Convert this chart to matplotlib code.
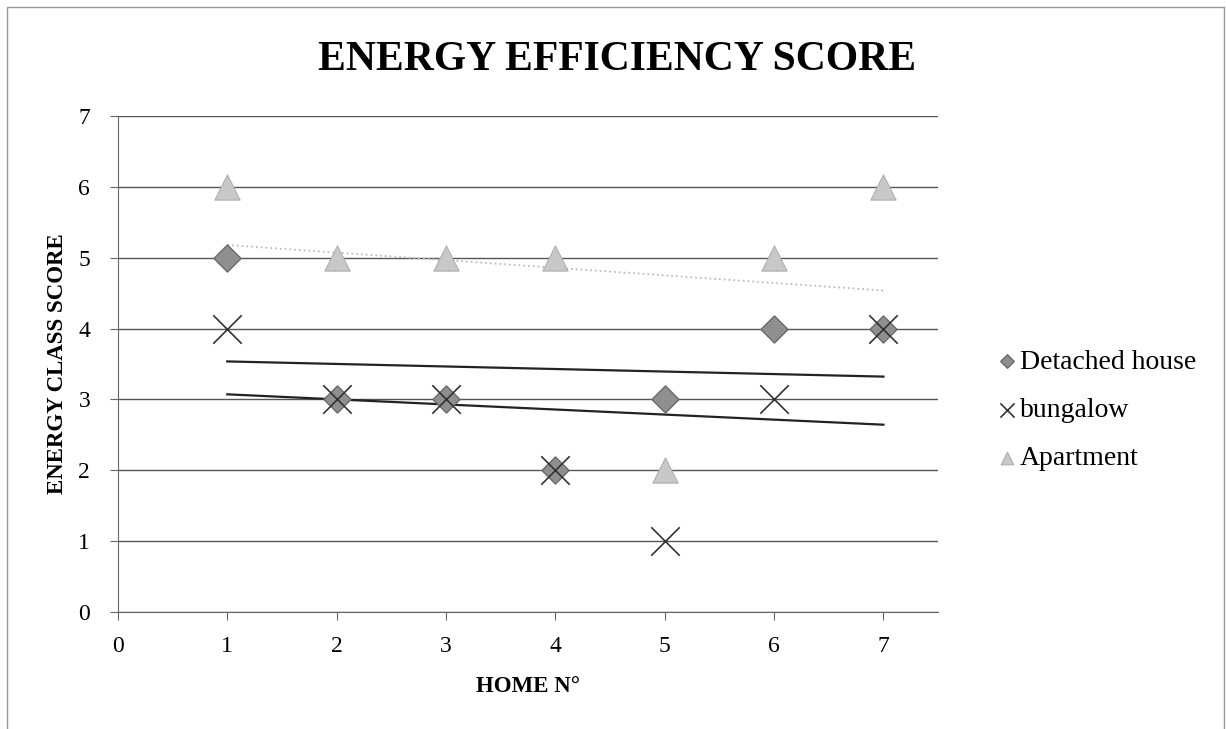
import numpy as np
import matplotlib
matplotlib.use("Agg")
import matplotlib.pyplot as plt

# data
homes = [1, 2, 3, 4, 5, 6, 7]
detached = [5, 3, 3, 2, 3, 4, 4]
bungalow = [4, 3, 3, 2, 1, 3, 4]
apartment = [6, 5, 5, 5, 2, 5, 6]

plt.rcParams['font.family'] = ['Liberation Serif', 'DejaVu Serif']

fig = plt.figure(figsize=(12.26, 7.29), dpi=100)
ax = fig.add_axes([0.0962, 0.1605, 0.669, 0.6805])

x = np.array(homes)
ax.scatter(homes, detached, marker='D', s=190, color='#8f8f8f', edgecolor='#6a6a6a',
           linewidth=1, zorder=3, label='Detached house')
ax.scatter(homes, bungalow, marker='x', s=420, color='#333333', linewidth=1.2,
           zorder=4, label='bungalow')
ax.scatter(homes, apartment, marker='^', s=330, color='#c8c8c8', edgecolor='#b0b0b0',
           linewidth=0.8, zorder=3, label='Apartment')

# linear trendlines
for ys, col, ls, lw in [(detached, '#222222', '-', 1.6),
                        (bungalow, '#222222', '-', 1.6),
                        (apartment, '#bdbdbd', ':', 1.3)]:
    k, b = np.polyfit(x, ys, 1)
    ax.plot([1, 7], [k * 1 + b, k * 7 + b], color=col, linestyle=ls, linewidth=lw, zorder=2)

ax.set_xlim(0, 7.5)
ax.set_ylim(0, 7)
ax.set_xticks(range(0, 8))
ax.set_yticks(range(0, 8))
ax.yaxis.grid(True, color='#555555', linewidth=1.0)
ax.set_axisbelow(True)
for s in ['top', 'right']:
    ax.spines[s].set_visible(False)
ax.spines['left'].set_color('#666666')
ax.spines['bottom'].set_color('#666666')
ax.tick_params(axis='both', labelsize=17, color='#666666', length=6, direction='out')
ax.tick_params(axis='x', pad=11)
ax.tick_params(axis='y', pad=14)

ax.set_xlabel('HOME N°', fontsize=16.5, fontweight='bold', labelpad=14)
ax.set_ylabel('ENERGY CLASS SCORE', fontsize=16.5, fontweight='bold', labelpad=7.5)
fig.text(0.503, 0.918, 'ENERGY EFFICIENCY SCORE', ha='center', va='center',
         fontsize=30, fontweight='bold')

leg = ax.legend(loc='center left', bbox_to_anchor=(1.069, 0.407), frameon=False,
                fontsize=20, handletextpad=0.0, labelspacing=0.82,
                markerscale=0.5, handlelength=0.9, borderaxespad=0, borderpad=0)

# outer border
fig.patches.append(plt.Rectangle((7 / 1226, -0.01), 1217 / 1226, 1.0 - 7 / 729 + 0.01,
                                 transform=fig.transFigure, fill=False,
                                 edgecolor='#999999', linewidth=1.0))

fig.savefig('out.png', dpi=100)
